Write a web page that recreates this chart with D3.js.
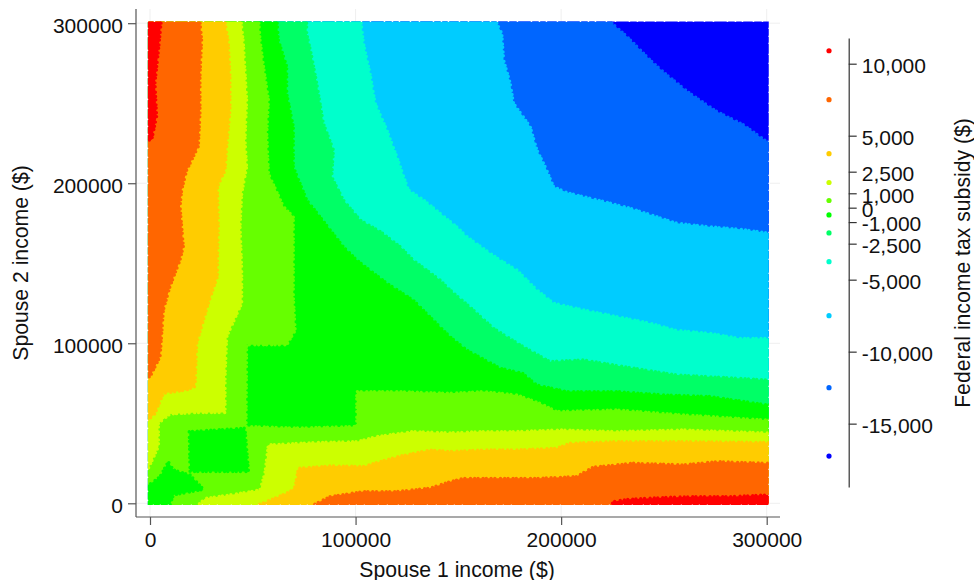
<!DOCTYPE html>
<html lang="en">
<head>
<meta charset="utf-8">
<script src="https://cdn.jsdelivr.net/npm/d3@7"></script>
<style>
body { margin: 0; background: #fff; }
text { font-family: "Liberation Sans", Arial, sans-serif; fill: #111; }
.grid line { stroke: #efefef; stroke-width: 1; }
.axis path, .axis line { stroke: #555; stroke-width: 1.2; fill: none; }
.axis text { font-size: 21px; fill: #111; }
.legendAxis path, .legendAxis line { stroke: #333; stroke-width: 1.2; fill: none; }
.legendAxis text { font-size: 21px; fill: #111; }
.title { font-size: 21.2px; }
.band { stroke-linecap: round; stroke-linejoin: round; stroke-width: 3.4; stroke-dasharray: 0 3.2 0 4.8 0 3.8 0 5.6 0 4.2 0 3.4 0 5; }
</style>
</head>
<body>
<script>
// incomes below are in $1000s: each list is one region outline
var xTicks = [0, 100000, 200000, 300000];
var yTicks = [0, 100000, 200000, 300000];

var bandColors = ["#0000ff", "#0066ff", "#00ccff", "#00ffcc", "#00ff66", "#00ff00", "#66ff00", "#ccff00", "#ffcc00", "#ff6600", "#ff0000"];

var fullSquare = [[-5, -5], [305, -5], [305, 305], [-5, 305]];

var mediumBlue = [[224.7, 305], [224.7, 300], [232, 291.7], [243.3, 277], [251.4, 267.7], [262.8, 256], [275.7, 244.8], [288.7, 236.5], [300, 226], [305, 224], [305, -5], [-5, -5], [-5, 305]];

var lightBlue = [[168.7, 305], [168.7, 300], [171.1, 293.7], [172, 277], [175.2, 262.5], [176.8, 250], [184.9, 235.4], [188.2, 220.8], [192.2, 210.4], [196.3, 197.9], [202.7, 194.2], [217.4, 189.6], [233.6, 184.4], [256.3, 175], [270.9, 172.9], [287.1, 171.2], [300, 169], [305, 169], [305, -5], [-5, -5], [-5, 305]];

var teal = [[102.7, 305], [102.7, 300], [103.8, 287.5], [107, 268.7], [109.5, 250], [115.2, 233.3], [120, 216.7], [125.7, 195.8], [133, 189.6], [141.1, 181.2], [150, 171.9], [154, 166.7], [162, 159.4], [170.3, 152], [178.4, 145.8], [188.2, 133.3], [196.3, 125], [210.9, 120.8], [227, 116.7], [243.3, 112.5], [256.3, 108], [272.5, 106.2], [287, 103], [300, 103], [305, 103], [305, -5], [-5, -5], [-5, 305]];

var seaGreen = [[76.2, 305], [76.2, 293.7], [78.7, 279], [81.1, 262.5], [84.3, 237.5], [89.2, 220.8], [88.4, 204], [94, 189.6], [102.2, 177], [112, 169.8], [121.6, 160.4], [128, 152], [141, 139.6], [146, 133.3], [157.3, 120.8], [167, 109.4], [180, 99], [194.6, 88.5], [210.9, 89.6], [230.4, 85.4], [256.3, 80.2], [285.5, 78.1], [300, 77], [305, 77], [305, -5], [-5, -5], [-5, 305]];

var green = [[61.6, 305], [62.4, 289.6], [66.5, 273], [66.5, 256], [69.7, 235.4], [69.7, 210.4], [76.2, 189.6], [82.7, 179], [94, 160.4], [100.6, 152], [115.2, 137.5], [128, 127], [142.6, 108.3], [146, 104], [154, 95.8], [170.3, 84.4], [181.3, 81.2], [188, 74], [202.7, 69.8], [227, 69.8], [250, 67.7], [272.5, 66.7], [300, 61.5], [305, 61], [305, -5], [-5, -5], [-5, 305]];

var lime = [[52.7, 305], [53.5, 289.6], [55.2, 273], [57.6, 252], [56.8, 231], [57.6, 206], [64.9, 185.4], [69.7, 179], [69.7, 152], [69.7, 129], [70.6, 108], [66.5, 99], [47, 99], [46.7, 48], [71.4, 47], [100.6, 48], [100.6, 69.8], [120, 69.8], [146, 68.7], [162.2, 69.8], [178.4, 67.7], [189.7, 62.5], [197.9, 57.3], [227, 58.3], [259.5, 55.2], [300, 52], [305, 52], [305, -5], [-5, -5], [-5, 305]];

var islandMiddle = [[19.1, 44.8], [46.2, 46.9], [47.9, 19.8], [19.5, 19.8]];
var islandCorner = [[-5, 10.4], [-1.6, 10.4], [4.9, 16.7], [8.9, 26], [11.4, 20.8], [19.5, 17.7], [26, 8.7], [11.4, 5.2], [9.7, -1], [9.7, -5], [-5, -5]];

var yellowLeft = [[44, 305], [45.4, 287.5], [47, 252], [46.2, 227], [47, 210], [44.6, 193.7], [43.8, 173], [44.6, 146], [44.6, 125], [37.3, 104], [36.5, 79], [36.5, 56.7], [22.7, 56.7], [9.7, 55.8], [4.1, 50], [4.1, 35.4], [-0.8, 21.9], [-5, 21.9], [-5, 305]];
var yellowBottom = [[23.5, -5], [23.5, -1], [26.8, 3], [38.9, 5.2], [53.5, 8.3], [55.9, 18.7], [57.6, 36.5], [81.1, 38], [100.6, 38.5], [110.3, 41.7], [128, 44.8], [146, 44], [162.2, 44.8], [178.4, 44.8], [199.5, 45.8], [227, 44.8], [259.5, 45.8], [300, 44], [305, 44], [305, -5]];

var amberLeft = [[36, 305], [38.1, 287.5], [38.9, 266.7], [38.9, 245.8], [37.3, 223], [36.5, 208], [32.8, 198], [33.2, 173], [32.8, 152], [32.8, 141.7], [28.4, 125], [22.7, 100], [21.9, 73], [17.8, 70.8], [6.5, 68.7], [2.4, 56], [-0.8, 52], [-5, 52], [-5, 305]];
var amberBottom = [[52.7, -5], [52.7, -1], [61.6, 3.7], [68.1, 7.3], [70.6, 10.4], [72.2, 21.9], [87.6, 23.3], [103.8, 23], [120, 29], [136.2, 33.3], [146, 32.3], [162.2, 33.3], [178.4, 33.3], [197.9, 34.4], [204.4, 37.5], [227, 38.5], [259.5, 38.5], [300, 38], [305, 38], [305, -5]];

var orangeLeft = [[24, 305], [25.1, 289.6], [24.3, 266.7], [24.3, 243.7], [23.5, 223], [17.8, 208], [15.4, 195.8], [14.6, 185.4], [16.2, 160.4], [14.6, 152], [9.7, 135.4], [6.5, 120.8], [4.9, 91.7], [0, 79], [-5, 79], [-5, 305]];
var orangeBottom = [[79.5, -5], [79.5, -1], [87.6, 4.2], [103.8, 7.3], [120, 7.3], [136.2, 9.4], [146, 13.5], [152.5, 15.6], [170.3, 15.6], [189.7, 15.6], [207.5, 16.7], [215.6, 22.5], [235, 25], [259.5, 24], [275.7, 26], [300, 25], [305, 25], [305, -5]];

var redLeft = [[5.7, 305], [4.9, 293.7], [4.1, 283], [2.4, 262.5], [3.2, 241.7], [0.8, 227], [-5, 227], [-5, 305]];
var redBottom = [[225, -5], [225, 1], [233, 2.5], [251.4, 3.7], [267.6, 4.2], [284, 4.2], [300, 5.2], [305, 5.2], [305, -5]];

var legendValues = [10900, 7500, 3750, 1750, 500, -500, -1750, -3750, -7500, -12500, -17250];
var legendColors = ["#ff0000", "#ff6600", "#ffcc00", "#ccff00", "#66ff00", "#00ff00", "#00ff66", "#00ffcc", "#00ccff", "#0066ff", "#0000ff"];
var legendTicks = [10000, 5000, 2500, 1000, 0, -1000, -2500, -5000, -10000, -15000];

// paint order: each region sits on top of the ones before it
var regions = [
  [fullSquare, 0], [mediumBlue, 1], [lightBlue, 2], [teal, 3], [seaGreen, 4], [green, 5],
  [lime, 6], [islandMiddle, 5], [islandCorner, 5],
  [yellowLeft, 7], [yellowBottom, 7], [amberLeft, 8], [amberBottom, 8],
  [orangeLeft, 9], [orangeBottom, 9], [redLeft, 10], [redBottom, 10]
];

var width = 974, height = 580;

var svg = d3.select("body").append("svg")
    .attr("width", width)
    .attr("height", height)
    .style("display", "block");

var x = d3.scaleLinear().domain([0, 300000]).range([150, 766.7]),
    y = d3.scaleLinear().domain([0, 300000]).range([503.3, 23.2]),
    legendY = d3.scaleLinear().domain([11785, -19400]).range([38, 487]);

var frameLeft = 136, frameBottom = 517, frameRight = 780, frameTop = 9;

// grid
svg.append("g").attr("class", "grid")
  .selectAll("line").data(xTicks).enter().append("line")
    .attr("x1", function(d) { return x(d); })
    .attr("x2", function(d) { return x(d); })
    .attr("y1", frameBottom).attr("y2", frameTop);
svg.append("g").attr("class", "grid")
  .selectAll("line").data(yTicks).enter().append("line")
    .attr("x1", frameLeft).attr("x2", frameRight)
    .attr("y1", function(d) { return y(d); })
    .attr("y2", function(d) { return y(d); });

// regions, clipped to the square the points fill
var clipX0 = x(-1000), clipX1 = x(301000), clipY0 = y(301000), clipY1 = y(-1000);
svg.append("clipPath").attr("id", "square").append("rect")
    .attr("x", clipX0).attr("y", clipY0)
    .attr("width", clipX1 - clipX0).attr("height", clipY1 - clipY0);

var outline = d3.line()
    .x(function(d) { return x(d[0] * 1000); })
    .y(function(d) { return y(d[1] * 1000); });

svg.append("g").attr("clip-path", "url(#square)")
  .selectAll("path").data(regions).enter().append("path")
    .attr("class", "band")
    .attr("d", function(d) { return outline(d[0]) + "Z"; })
    .attr("fill", function(d) { return bandColors[d[1]]; })
    .attr("stroke", function(d) { return bandColors[d[1]]; });

// nibble the outer edge so it looks made of dots
svg.append("rect")
    .attr("x", clipX0 - 0.5).attr("y", clipY0 - 0.5)
    .attr("width", clipX1 - clipX0 + 1).attr("height", clipY1 - clipY0 + 1)
    .attr("fill", "none").attr("stroke", "#fff")
    .attr("stroke-width", 1.8).attr("stroke-linecap", "round")
    .attr("stroke-dasharray", "0 7 0 11 0 9 0 14 0 8");

// axes
var yAxis = svg.append("g").attr("class", "axis")
    .attr("transform", "translate(" + frameLeft + ",0)")
    .call(d3.axisLeft(y).tickValues(yTicks).tickFormat(d3.format("d")).tickSize(8).tickSizeOuter(0).tickPadding(5));
yAxis.select(".domain").attr("d", "M0," + frameTop + "V" + frameBottom);
yAxis.selectAll("text").attr("dy", "0.42em");

var xAxis = svg.append("g").attr("class", "axis")
    .attr("transform", "translate(0," + frameBottom + ")")
    .call(d3.axisBottom(x).tickValues(xTicks).tickFormat(d3.format("d")).tickSize(8).tickSizeOuter(0).tickPadding(7));
xAxis.select(".domain").attr("d", "M" + frameLeft + ",0H" + frameRight);

svg.append("text").attr("class", "title")
    .attr("x", 457).attr("y", 577)
    .style("text-anchor", "middle")
    .text("Spouse 1 income ($)");

svg.append("text").attr("class", "title")
    .attr("transform", "translate(27.5,263) rotate(-90)")
    .style("text-anchor", "middle")
    .text("Spouse 2 income ($)");

// legend
svg.append("g")
  .selectAll("circle").data(legendValues).enter().append("circle")
    .attr("cx", 829)
    .attr("cy", function(d) { return legendY(d); })
    .attr("r", 2.6)
    .attr("fill", function(d, i) { return legendColors[i]; });

var legendAxis = svg.append("g").attr("class", "legendAxis")
    .attr("transform", "translate(848.7,0)")
    .call(d3.axisRight(legendY).tickValues(legendTicks)
      .tickFormat(function(d) { return d3.format(",")(d).replace("\u2212", "-"); })
      .tickSize(8).tickSizeOuter(0).tickPadding(5));
legendAxis.selectAll("text").attr("dy", "0.42em");

svg.append("text").attr("class", "title")
    .attr("transform", "translate(970,263) rotate(-90)")
    .style("text-anchor", "middle")
    .text("Federal income tax subsidy ($)");
</script>
</body>
</html>
